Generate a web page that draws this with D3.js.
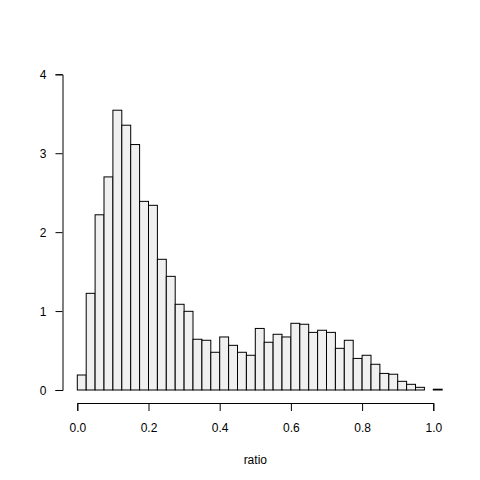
<!DOCTYPE html>
<html>
<head>
<meta charset="utf-8">
<script src="https://cdn.jsdelivr.net/npm/d3@7"></script>
<style>
  body { margin: 0; background: #fff; }
  text { font-family: "Liberation Sans", Arial, sans-serif; }
</style>
</head>
<body>
<div id="chart"></div>
<script>
// histogram of ratio, bin width 0.025, density scale
const binWidth = 0.025;
const density = [0.19, 1.225, 2.22, 2.70, 3.545, 3.355, 3.11, 2.39, 2.34, 1.656,
    1.44, 1.086, 0.997, 0.643, 0.63, 0.478, 0.672, 0.566, 0.478, 0.44,
    0.78, 0.605, 0.706, 0.672, 0.845, 0.833, 0.73, 0.757, 0.73, 0.528,
    0.63, 0.40, 0.44, 0.326, 0.21, 0.2, 0.11, 0.072, 0.034, 0, 0.01];
const xTicks = [0, 0.2, 0.4, 0.6, 0.8, 1.0];
const yTicks = [0, 1, 2, 3, 4];
const xLabel = "ratio";

const width = 480, height = 480;

const svg = d3.select("#chart").append("svg")
    .attr("width", width)
    .attr("height", height);

const x = d3.scaleLinear().domain([0, 1]).range([77.3, 433.3]);
const y = d3.scaleLinear().domain([0, 4]).range([390, 74.3]);

svg.append("g")
    .selectAll("rect")
    .data(density)
    .join("rect")
    .attr("x", (d, i) => x(i * binWidth))
    .attr("y", d => y(d))
    .attr("width", x(binWidth) - x(0))
    .attr("height", d => y(0) - y(d))
    .attr("fill", "#f0f0f0")
    .attr("stroke", "#000")
    .attr("stroke-width", 1);

// x axis sits below the plot, R style
const xAxis = svg.append("g")
    .attr("transform", "translate(0,403)")
    .call(d3.axisBottom(x).tickValues(xTicks).tickFormat(d3.format(".1f"))
        .tickSizeOuter(0).tickSize(8).tickPadding(12));

const yAxis = svg.append("g")
    .attr("transform", "translate(62.5,0)")
    .call(d3.axisLeft(y).tickValues(yTicks).tickFormat(d3.format("d"))
        .tickSizeOuter(0).tickSize(7).tickPadding(9));

[xAxis, yAxis].forEach(g => {
    g.select(".domain").attr("stroke", "#000");
    g.selectAll(".tick line").attr("stroke", "#000");
    g.selectAll("text")
        .attr("fill", "#000")
        .style("font-size", "12px")
        .style("font-family", "'Liberation Sans', Arial, sans-serif");
});
yAxis.selectAll("text").attr("dy", "0.35em");

svg.append("text")
    .attr("x", (x(0) + x(1)) / 2)
    .attr("y", 464)
    .attr("text-anchor", "middle")
    .style("font-size", "12px")
    .text(xLabel);
</script>
</body>
</html>
